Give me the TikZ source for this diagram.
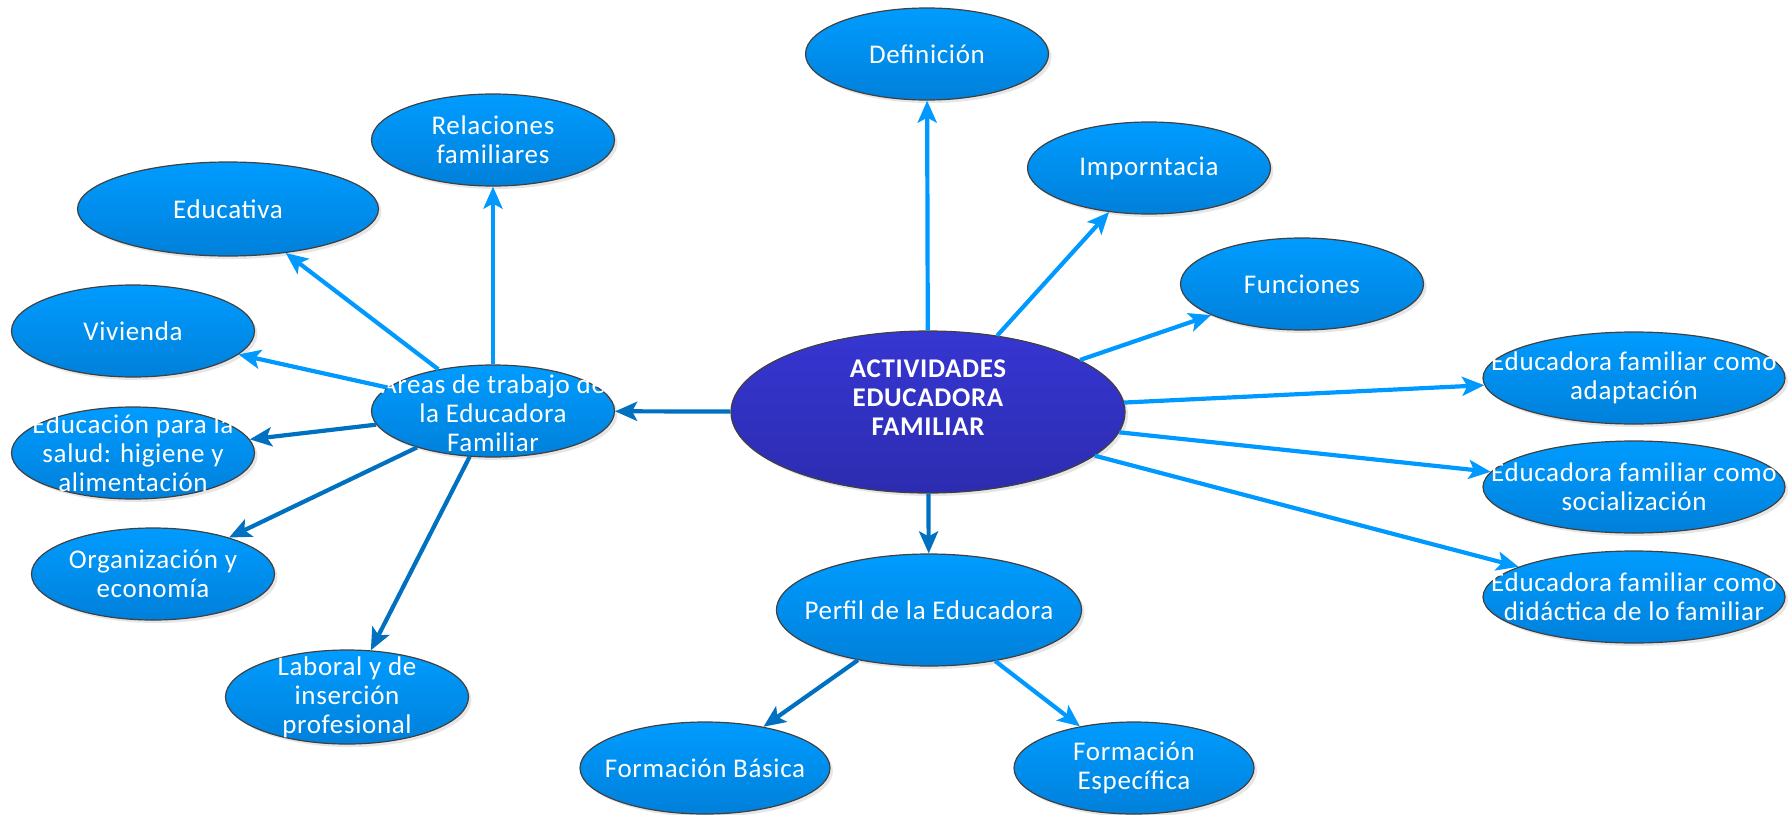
\documentclass[tikz,border=0pt]{standalone}
\usepackage{fontspec}
\setmainfont{Carlito}[LetterSpace=2.5]
\usetikzlibrary{shapes.geometric,shadows,arrows.meta}

\definecolor{celeste}{RGB}{0,156,255}
\definecolor{celesteosc}{RGB}{0,128,218}
\definecolor{morado}{RGB}{54,54,210}
\definecolor{moradoosc}{RGB}{44,44,176}
\definecolor{borde}{RGB}{64,64,64}
\definecolor{lineaclara}{RGB}{0,153,255}
\definecolor{lineaosc}{RGB}{0,112,192}

\begin{document}
\begin{tikzpicture}[x=1pt, y=-1pt, font=\fontsize{27}{29}\selectfont,
	texto/.style={text=white, align=center},
	burbuja/.style={ellipse, draw=borde, line width=1.2pt, top color=celeste, bottom color=celesteosc,
		minimum width=243pt, minimum height=92pt, inner sep=0pt,
		drop shadow={shadow xshift=3pt, shadow yshift=-3pt, opacity=0.2},
		label={[texto]center:{#1}}},
	claro/.style={draw=lineaclara, line width=4.2pt, -{Stealth[length=22pt, width=19pt, inset=5pt]}},
	oscuro/.style={claro, draw=lineaosc}]
		\useasboundingbox (0,0) rectangle (1791,814);

		% centro
		\node[burbuja={}, top color=morado, bottom color=moradoosc, minimum width=394pt, minimum height=162pt,
			label={[texto, font=\fontsize{27}{29}\selectfont\bfseries, yshift=14pt]center:{ACTIVIDADES\\EDUCADORA\\FAMILIAR}}] (act) at (928,412) {};

		% rama derecha
		\node[burbuja={Definición}] (def) at (927,54) {};
		\node[burbuja={Imporntacia}] (imp) at (1149,168) {};
		\node[burbuja={Funciones}] (fun) at (1302,284) {};
		\node[burbuja={Educadora familiar como\\adaptación}, minimum width=302pt] (adap) at (1634,378) {};
		\node[burbuja={Educadora familiar como\\socialización}, minimum width=302pt] (soc) at (1634,487) {};
		\node[burbuja={Educadora familiar como\\didáctica de lo familiar}, minimum width=302pt] (did) at (1634,597) {};

		% perfil
		\node[burbuja={Perfil de la Educadora}, minimum width=305pt, minimum height=112pt] (perfil) at (929,610) {};
		\node[burbuja={Formación Básica}, minimum width=250pt] (basica) at (705,768) {};
		\node[burbuja={Formación\\Específica}, minimum width=240pt] (especif) at (1134,768) {};

		% areas de trabajo
		\node[burbuja={Áreas de trabajo de\\la Educadora\\Familiar}] (areas) at (493,411) {};
		\node[burbuja={Relaciones\\familiares}] (rel) at (493,140) {};
		\node[burbuja={Educativa}, minimum width=301pt, minimum height=94pt] (edu) at (228,209) {};
		\node[burbuja={Vivienda}] (viv) at (133,331) {};
		\node[burbuja={Educación para la\\salud: higiene y\\alimentación}] (salud) at (133,453) {};
		\node[burbuja={Organización y\\economía}] (org) at (153,574) {};
		\node[burbuja={Laboral y de\\inserción\\profesional}, minimum height=94pt] (lab) at (347,697) {};

		\path (act) edge[claro] (def)
		(act) edge[claro] (imp)
		(act) edge[claro] (fun)
		(act) edge[claro] (adap)
		(act) edge[claro] (soc)
		(act) edge[claro] (did)
		(act) edge[oscuro] (perfil)
		(act) edge[oscuro] (areas)
		(perfil) edge[oscuro] (basica)
		(perfil) edge[claro] (especif)
		(areas) edge[claro] (rel)
		(areas) edge[claro] (edu)
		(areas) edge[claro] (viv)
		(areas) edge[oscuro] (salud)
		(areas) edge[oscuro] (org)
		(areas) edge[oscuro] (lab);
	\end{tikzpicture}
\end{document}
